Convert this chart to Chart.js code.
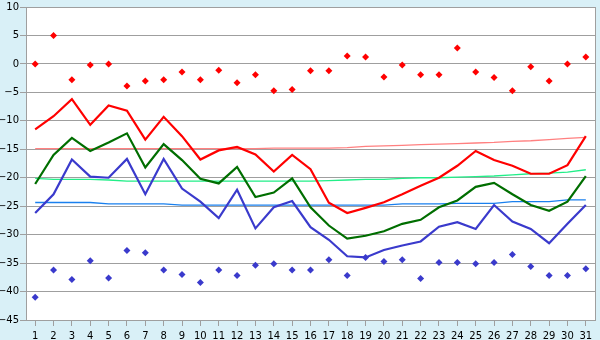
<!DOCTYPE html>
<html>
<head>
<meta charset="utf-8">
<script src="https://cdn.jsdelivr.net/npm/chart.js@4"></script>
<style>
  html, body { margin: 0; padding: 0; background: #d9f0f7; }
  #wrap { width: 600px; height: 340px; }
</style>
</head>
<body>
<div id="wrap"><canvas id="tempChart"></canvas></div>
<script>
// Days of the month
const days = ["1","2","3","4","5","6","7","8","9","10","11","12","13","14","15","16",
  "17","18","19","20","21","22","23","24","25","26","27","28","29","30","31"];

// Y axis tick labels
const yTicks = [10, 5, 0, -5, -10, -15, -20, -25, -30, -35, -40, -45];

// Absolute max / min (diamonds)
const absMax = [0, 5, -2.8, -0.2, 0, -3.9, -3.0, -2.8, -1.4, -2.8, -1.1, -3.3, -1.9, -4.7, -4.5,
  -1.2, -1.2, 1.4, 1.2, -2.3, -0.2, -1.9, -1.9, 2.8, -1.4, -2.4, -4.7, -0.5, -3.0, 0, 1.2];
const absMin = [-41.0, -36.2, -37.9, -34.6, -37.6, -32.8, -33.2, -36.2, -37.0, -38.4, -36.2, -37.2,
  -35.4, -35.1, -36.2, -36.2, -34.4, -37.2, -34.0, -34.7, -34.4, -37.7, -34.9, -34.9, -35.1,
  -34.9, -33.5, -35.6, -37.2, -37.2, -36.0];

// Daily max / mean / min (thick lines)
const maxTemp = [-11.5, -9.2, -6.2, -10.7, -7.3, -8.2, -13.3, -9.3, -12.7, -16.8, -15.2, -14.6,
  -15.9, -18.9, -16.0, -18.5, -24.4, -26.2, -25.3, -24.3, -22.9, -21.4, -20.0, -17.9, -15.3,
  -16.9, -17.9, -19.3, -19.3, -17.8, -12.7];
const meanTemp = [-21.1, -16.0, -13.0, -15.3, -13.8, -12.2, -18.2, -14.1, -16.9, -20.2, -21.0, -18.1,
  -23.4, -22.6, -20.1, -25.2, -28.4, -30.7, -30.2, -29.4, -28.1, -27.4, -25.2, -24.0, -21.6,
  -20.9, -22.9, -24.8, -25.8, -24.2, -19.7];
const minTemp = [-26.2, -22.9, -16.8, -19.8, -20.0, -16.7, -22.9, -16.7, -21.9, -24.2, -27.1, -22.1,
  -28.9, -25.2, -24.1, -28.7, -30.9, -33.8, -34.0, -32.7, -31.9, -31.2, -28.6, -27.8, -29.0,
  -24.8, -27.7, -29.0, -31.5, -28.1, -24.8];

// Normals (thin lines)
const normMax = [-14.9, -14.9, -14.9, -14.9, -14.9, -14.9, -14.9, -14.9, -14.9, -14.9, -14.9, -14.9,
  -14.9, -14.8, -14.8, -14.8, -14.8, -14.7, -14.5, -14.4, -14.3, -14.2, -14.1, -14.0, -13.9,
  -13.8, -13.6, -13.5, -13.3, -13.1, -12.9];
const normMean = [-20.1, -20.3, -20.3, -20.3, -20.4, -20.6, -20.6, -20.6, -20.6, -20.6, -20.6, -20.6,
  -20.6, -20.6, -20.6, -20.6, -20.5, -20.4, -20.3, -20.3, -20.1, -20.0, -20.0, -19.9, -19.8,
  -19.7, -19.5, -19.3, -19.2, -19.0, -18.6];
const normMin = [-24.35, -24.35, -24.35, -24.35, -24.6, -24.6, -24.6, -24.6, -24.8, -24.8, -24.8,
  -24.8, -24.8, -24.8, -24.8, -24.8, -24.8, -24.8, -24.8, -24.8, -24.6, -24.6, -24.6, -24.5,
  -24.5, -24.5, -24.2, -24.2, -24.2, -23.9, -23.9];

const fontSpec = { family: "DejaVu Sans", size: 10 };
const gridGray = "#9f9f9f";

function thickLine(values, color, order) {
  return { data: values, borderColor: color, borderWidth: 2.2, pointRadius: 0, tension: 0, order: order };
}
function thinLine(values, color, order) {
  return { data: values, borderColor: color, borderWidth: 1.3, pointRadius: 0, tension: 0, order: order };
}
function diamonds(values, color) {
  return { data: values, showLine: false, pointStyle: "rectRot", pointRadius: 3.5,
    pointBackgroundColor: color, pointBorderWidth: 0, borderColor: color, order: 0 };
}

// white plot area + gray frame
const plotFrame = {
  id: "plotFrame",
  beforeDraw(chart) {
    const a = chart.chartArea, c = chart.ctx;
    c.save();
    c.fillStyle = "#ffffff";
    c.fillRect(a.left, a.top, a.right - a.left, a.bottom - a.top);
    c.restore();
  },
  afterDatasetsDraw(chart) {
    const a = chart.chartArea, c = chart.ctx;
    c.save();
    c.strokeStyle = gridGray;
    c.lineWidth = 1;
    c.strokeRect(Math.round(a.left) + 0.5, Math.round(a.top) + 0.5,
      Math.round(a.right - a.left), Math.round(a.bottom - a.top));
    c.restore();
  }
};

const ctx = document.getElementById("tempChart");

new Chart(ctx, {
  type: "line",
  data: {
    labels: days,
    datasets: [
      diamonds(absMax, "#ff0000"),
      diamonds(absMin, "#3a3acc"),
      thickLine(maxTemp, "#ff0000", 1),
      thickLine(meanTemp, "#006e00", 2),
      thickLine(minTemp, "#3a3acc", 3),
      thinLine(normMax, "#ff8080", 4),
      thinLine(normMean, "#22ee88", 5),
      thinLine(normMin, "#1a80ee", 6)
    ]
  },
  options: {
    responsive: true,
    maintainAspectRatio: false,
    animation: false,
    layout: { padding: { top: 5, right: 5, left: 0, bottom: 0 } },
    plugins: { legend: { display: false }, tooltip: { enabled: false } },
    scales: {
      x: {
        offset: true,
        grid: { drawOnChartArea: false, drawTicks: true, tickLength: 6, color: gridGray },
        border: { color: gridGray },
        ticks: { color: "#000", font: fontSpec, padding: 4, maxRotation: 0, autoSkip: false },
        afterFit(scale) { scale.height = 20; }
      },
      y: {
        min: yTicks[yTicks.length - 1],
        max: yTicks[0],
        afterBuildTicks(scale) { scale.ticks = yTicks.map(v => ({ value: v })); },
        grid: { color: gridGray, tickLength: 6 },
        border: { color: gridGray },
        ticks: {
          color: "#000", font: fontSpec, padding: 1,
          callback: v => String(v).replace("-", "\u2212")
        },
        afterFit(scale) { scale.width = 26; }
      }
    }
  },
  plugins: [plotFrame]
});
</script>
</body>
</html>
